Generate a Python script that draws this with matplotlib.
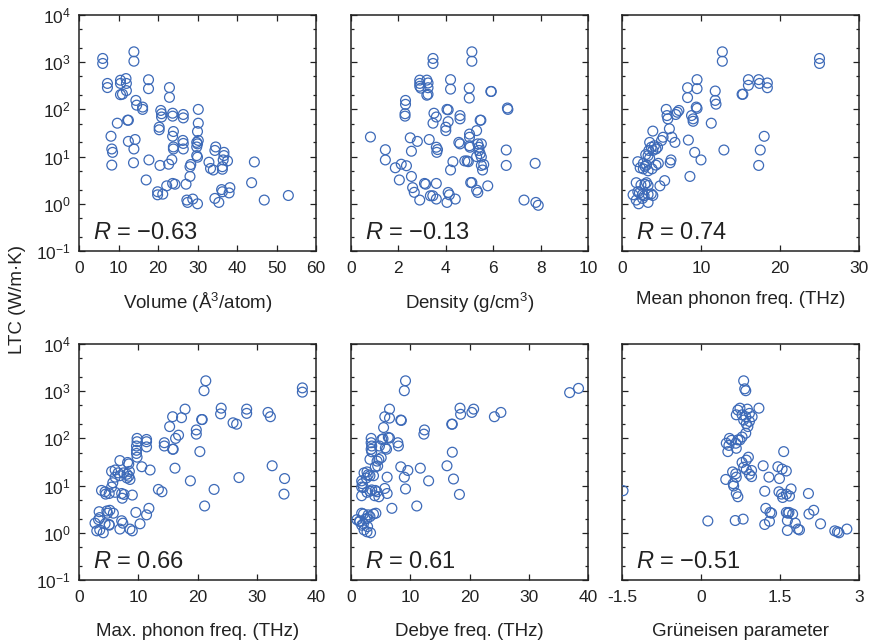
import matplotlib
matplotlib.use("Agg")
import matplotlib.pyplot as plt
from matplotlib.ticker import LogLocator, NullFormatter, FixedLocator

plt.rcParams['font.family'] = ['Liberation Sans', 'DejaVu Sans']
plt.rcParams['mathtext.fontset'] = 'custom'
plt.rcParams['mathtext.rm'] = 'Liberation Sans'
plt.rcParams['mathtext.it'] = 'Liberation Sans:italic'

# ---------------- data ----------------
vol_x = [6.0, 6.0, 13.9, 13.9, 7.2, 7.2, 10.5, 10.5, 11.9, 12.0, 12.0, 10.5, 11.0,
         17.6, 17.6, 22.9, 22.9, 14.4, 14.6, 16.1, 16.1, 9.7, 12.5, 12.3, 8.1, 8.3, 8.5,
         8.3, 12.5, 14.2, 13.9, 13.8, 17.0, 17.7, 20.7, 20.9, 20.9, 20.3, 20.3, 20.5,
         19.9, 19.9, 21.2, 23.7, 23.7, 23.9, 23.7, 23.9, 23.9, 23.5, 22.7, 22.2, 23.7,
         24.3, 26.4, 26.4, 26.3, 26.4, 26.4, 27.1, 28.3, 28.1, 28.1, 27.3, 27.5, 28.8,
         30.2, 30.2, 30.0, 29.8, 30.0, 29.8, 30.2, 29.8, 30.0, 30.0, 32.9, 33.3, 34.0,
         34.6, 34.4, 34.4, 35.4, 36.7, 36.7, 36.5, 36.3, 36.3, 36.1, 36.3, 37.6, 38.2,
         38.0, 43.7, 44.4, 46.9, 53.0]
vol_y = [1200, 940, 1660, 1050, 355, 290, 415, 355, 450, 355, 250, 205, 210,
         425, 275, 290, 180, 155, 123, 112, 100, 51, 59, 59, 27, 14.5, 12.3,
         6.6, 21, 23, 14.5, 7.4, 3.2, 8.5, 95, 81, 69, 42, 37, 6.5,
         1.8, 1.55, 1.6, 83, 72, 34, 27, 16, 14.5, 8.6, 6.9, 2.4, 2.7,
         2.6, 78, 66, 22, 19, 14.5, 2.6, 6.8, 6.1, 3.8, 1.2, 1.07, 1.26,
         100, 51, 34, 20, 18.6, 16, 22, 10.5, 9.7, 1.0, 7.6, 5.6, 5.2,
         16, 13.5, 1.3, 1.07, 12.3, 10.5, 8.5, 5.4, 6.1, 2.0, 1.8, 8.1, 2.2,
         1.7, 2.8, 7.7, 1.2, 1.5]

den_x = [0.82, 1.45, 1.45, 1.87, 2.04, 2.12, 2.34, 2.3, 2.3, 2.28, 2.28, 2.5, 2.55,
         2.55, 2.6, 2.67, 2.9, 2.8, 2.9, 2.9, 2.9, 2.95, 3.2, 3.25, 3.25, 3.25, 3.2,
         3.46, 3.46, 3.3, 3.1, 3.15, 3.35, 3.45, 3.6, 3.6, 3.5, 3.6, 3.46, 3.6, 3.65,
         3.62, 4.05, 4.1, 4.1, 4.0, 4.0, 4.2, 4.2, 4.3, 4.2, 4.1, 4.15, 4.05, 4.4,
         4.6, 4.6, 4.55, 4.6, 4.8, 4.9, 4.95, 4.99, 4.99, 5.1, 5.1, 5.0, 5.0, 5.0,
         5.02, 5.05, 5.1, 5.3, 5.35, 5.4, 5.4, 5.45, 5.5, 5.5, 5.45, 5.48, 5.3, 5.3,
         5.35, 5.5, 5.55, 5.6, 5.77, 5.9, 5.92, 6.6, 6.62, 6.55, 6.55, 7.3, 7.77,
         7.8, 7.9]
den_y = [26, 14, 8.5, 5.8, 3.2, 6.9, 6.4, 155, 128, 81, 72, 25, 13,
         3.8, 2.2, 1.75, 1.2, 21, 417, 355, 309, 282, 417, 363, 288, 209, 200,
         1200, 940, 23, 2.7, 2.6, 1.48, 1.48, 1.26, 2.7, 83, 69, 51, 15.8, 14.1,
         12.3, 100, 98, 55, 42, 35.5, 427, 269, 7.8, 5.2, 1.74, 1.55, 1.07, 1.26,
         74, 63, 20, 18.6, 8.1, 8.1, 7.8, 282, 174, 1660, 1047, 30, 25.7, 17,
         15.8, 2.82, 2.82, 35.5, 18.6, 15.8, 13.5, 11.5, 9.8, 18.6, 59, 59, 10, 1.95,
         1.74, 6.5, 5.2, 6.8, 2.4, 240, 240, 107, 100, 13.8, 6.5, 1.2, 7.2,
         1.07, 0.93]

mean_x = [12.7, 12.7, 25.0, 25.0, 9.5, 9.5, 8.3, 8.3, 11.8, 11.8, 11.9, 15.2, 15.3,
          16.0, 16.0, 17.3, 17.4, 18.4, 18.4, 5.6, 5.7, 5.8, 7.0, 7.2, 6.8, 9.4, 9.5,
          8.8, 9.0, 9.0, 11.3, 3.9, 6.0, 6.3, 5.2, 5.0, 3.5, 3.7, 4.1, 4.5, 3.4, 3.9,
          4.3, 3.0, 3.3, 3.5, 6.7, 8.4, 9.2, 10.0, 12.9, 18.0, 17.5, 17.3, 2.0, 2.7,
          3.1, 2.7, 3.3, 3.8, 4.3, 4.6, 2.3, 2.9, 6.2, 6.1, 8.6, 5.4, 1.8, 2.4, 2.9,
          3.1, 3.3, 4.8, 1.4, 2.0, 2.2, 2.6, 2.8, 3.3, 3.7, 3.9, 1.8, 2.1, 2.6, 3.3]
mean_y = [1660, 1047, 1200, 940, 427, 275, 288, 178, 245, 155, 129, 209, 209,
          427, 324, 427, 355, 363, 288, 100, 74, 63, 87, 95, 78, 112, 105,
          74, 63, 56, 51, 34.7, 38.9, 25.7, 25.7, 21.9, 20, 15.8, 17, 15.8, 13.5, 13.5,
          14.5, 11, 10.5, 9.3, 20, 22.4, 12.3, 8.5, 13.8, 26.9, 13.8, 6.5, 7.8, 7.2,
          6.6, 5.5, 5.0, 5.5, 6.6, 7.2, 5.8, 6.2, 8.5, 7.4, 3.8, 3.1, 2.8, 2.5, 2.6,
          2.8, 2.45, 2.4, 1.55, 1.8, 1.7, 1.58, 1.48, 1.58, 1.62, 1.5, 1.2, 1.0, 1.3, 1.07]

max_x = [21.4, 21.1, 37.7, 37.7, 17.9, 15.8, 17.3, 15.3, 19.8, 19.8, 20.7, 20.8,
         24.0, 23.9, 26.0, 26.6, 28.3, 28.3, 31.9, 32.3, 16.8, 16.3, 9.8, 9.8, 9.7,
         9.7, 9.7, 9.8, 11.4, 11.4, 11.4, 14.4, 14.4, 15.9, 15.8, 20.4, 6.9, 8.2, 8.4,
         10.6, 12.0, 16.2, 5.5, 6.1, 6.6, 7.5, 8.1, 8.5, 6.1, 6.9, 8.1, 8.6, 8.4, 32.6,
         34.7, 34.6, 27.0, 18.8, 22.8, 13.4, 14.0, 3.8, 4.4, 4.5, 5.1, 5.5, 5.7, 6.1,
         7.2, 7.3, 7.6, 9.0, 21.2, 3.4, 4.7, 4.8, 5.8, 5.2, 9.6, 11.4, 11.8, 2.7, 3.3,
         3.5, 3.0, 3.5, 4.1, 4.4, 5.1, 5.1, 7.2, 7.4, 6.9, 8.6, 9.0, 10.3]
max_y = [1660, 1023, 1175, 955, 417, 288, 275, 178, 151, 123, 251, 251,
         437, 331, 214, 200, 417, 339, 355, 288, 117, 100, 100, 85, 69, 56,
         48, 40, 95, 85, 66, 81, 69, 59, 59, 52.5, 33.9, 30.9, 28.8, 25.1, 21.4, 23.4,
         20, 21.4, 18.6, 18.6, 17.4, 20, 15.1, 16.2, 14.5, 13.5, 15.8, 26.3, 14.1,
         6.6, 14.8, 12.6, 8.3, 8.3, 7.4, 7.9, 7.4, 6.6, 6.8, 9.3, 11.5, 7.2, 6.8, 5.4,
         6.5, 6.3, 3.7, 2.8, 2.9, 2.6, 2.6, 3.0, 2.7, 2.4, 3.3, 1.6, 1.9, 2.1,
         1.1, 1.15, 1.0, 1.55, 1.45, 1.5, 1.8, 1.6, 1.2, 1.2, 1.1, 1.55]

deb_x = [9.2, 9.0, 36.9, 38.4, 6.5, 5.7, 6.5, 8.4, 8.5, 5.5, 12.4, 12.3, 18.4, 18.5,
         20.7, 20.4, 24.2, 25.3, 17.1, 17.0, 3.4, 3.4, 3.5, 3.4, 3.5, 5.4, 5.2, 4.8,
         6.0, 6.3, 6.5, 5.8, 7.9, 8.0, 3.2, 4.4, 4.5, 4.1, 5.1, 4.7, 17.1, 8.4, 9.6, 11.7,
         16.2, 9.0, 2.2, 2.7, 2.9, 3.2, 3.8, 2.6, 1.8, 6.1, 13.1, 17.3, 9.2, 18.3, 1.9,
         1.8, 2.1, 3.2, 3.5, 4.1, 4.4, 4.0, 4.7, 5.7, 6.1, 1.8, 2.7, 6.9, 11.1, 1.8,
         2.1, 2.9, 3.2, 3.8, 4.2, 2.7, 1.0, 1.4, 2.1, 2.8, 1.8, 2.2, 2.7, 3.3, 1.5,
         2.4]
deb_y = [1660, 1023, 933, 1148, 417, 288, 269, 245, 240, 170, 151, 123, 437, 324,
         417, 355, 288, 355, 200, 200, 100, 81, 69, 59, 52, 98, 95, 69, 59, 105, 102,
         63, 81, 69, 36, 33, 26, 25, 39, 36, 51, 25, 20.9, 23.4, 26.3, 15.1, 18.6,
         19.5, 17, 16.2, 16.2, 14.5, 12.6, 15.1, 12.6, 13.8, 8.5, 6.5, 11, 9.3, 9.1,
         7.6, 8.1, 7.9, 7.4, 6.1, 5.8, 8.7, 6.8, 6.1, 7.2, 3.3, 3.7, 2.6, 2.5, 2.4,
         2.2, 2.5, 2.6, 2.0, 1.9, 1.75, 1.55, 1.35, 1.45, 1.15, 1.05, 1.0, 1.75, 1.95]

gru_x = [-1.48, 0.13, 0.65, 0.80, 0.81, 0.83, 0.85, 0.70, 0.74, 0.88, 0.67, 0.78,
         0.85, 0.92, 0.97, 1.10, 0.81, 0.86, 0.89, 0.92, 0.85, 0.78, 0.74, 0.54,
         0.48, 0.53, 0.58, 0.66, 0.51, 0.67, 0.70, 0.90, 0.86, 0.78, 0.81, 0.96,
         0.92, 0.96, 0.86, 0.47, 0.60, 0.66, 0.67, 0.61, 0.62, 0.67, 0.70, 1.57,
         1.18, 1.46, 1.54, 1.62, 1.49, 1.29, 1.21, 1.23, 1.31, 1.34, 1.21, 1.30,
         1.48, 1.53, 1.62, 1.55, 1.68, 1.71, 1.65, 1.62, 1.67, 1.74, 1.79, 1.64,
         1.64, 1.84, 1.87, 2.04, 2.05, 2.14, 2.27, 2.54, 2.59, 2.62, 2.77]
gru_y = [7.8, 1.78, 1.82, 1.95, 1660, 1122, 1023, 398, 437, 417, 316, 316,
         288, 339, 288, 437, 245, 204, 178, 229, 129, 107, 93, 100, 79, 71, 91, 79,
         52.5, 61.7, 93, 40, 34.7, 30.9, 24.5, 20.9, 17.4, 15.5, 21.9, 13.5, 19.5,
         17.8, 15.1, 11, 9.8, 6.8, 5.8, 52.5, 26.3, 25.1, 22.4, 20.4, 14.1, 15.1,
         7.6, 3.3, 2.7, 2.6, 1.5, 1.75, 7.4, 6.6, 6.6, 5.6, 6.0, 8.5, 2.6, 2.7,
         2.7, 2.5, 1.6, 1.82, 1.12, 1.2, 1.15, 6.8, 2.5, 3.0, 1.55, 1.1, 1.05, 1.0, 1.2]

xlabels = ['Volume (Å$^3$/atom)', 'Density (g/cm$^3$)', 'Mean phonon freq. (THz)',
           'Max. phonon freq. (THz)', 'Debye freq. (THz)', 'Grüneisen parameter']
r_values = ['\u22120.63', '\u22120.13', '0.74', '0.66', '0.61', '\u22120.51']
x_ticks = [[0, 10, 20, 30, 40, 50, 60], [0, 2, 4, 6, 8, 10], [0, 10, 20, 30],
           [0, 10, 20, 30, 40], [0, 10, 20, 30, 40], [-1.5, 0, 1.5, 3]]
x_ticklabels = [['0', '10', '20', '30', '40', '50', '60'],
                ['0', '2', '4', '6', '8', '10'],
                ['0', '10', '20', '30'],
                ['0', '10', '20', '30', '40'],
                ['0', '10', '20', '30', '40'],
                ['-1.5', '0', '1.5', '3']]
y_ticks = [0.1, 1, 10, 100, 1000, 10000]
y_ticklabels = ['$10^{-1}$', '$10^{0}$', '$10^{1}$', '$10^{2}$', '$10^{3}$', '$10^{4}$']

xs = [vol_x, den_x, mean_x, max_x, deb_x, gru_x]
ys = [vol_y, den_y, mean_y, max_y, deb_y, gru_y]

# ---------------- figure ----------------
W, H = 876, 643
fig = plt.figure(figsize=(W / 100, H / 100), dpi=100)

lefts = [79, 351, 622]
tops = [15, 344]
pw, ph = 237, 236
color = '#3d6ab8'

for i in range(6):
    r, c = divmod(i, 3)
    ax = fig.add_axes([lefts[c] / W, 1 - (tops[r] + ph) / H, pw / W, ph / H])
    ax.scatter(xs[i], ys[i], s=50, facecolors='none', edgecolors=color,
               linewidths=0.9, zorder=3)
    ax.set_yscale('log')
    ax.set_ylim(0.1, 10000)
    ax.set_xlim(x_ticks[i][0], x_ticks[i][-1])
    ax.set_xticks(x_ticks[i])
    ax.set_xticklabels(x_ticklabels[i])
    ax.yaxis.set_major_locator(FixedLocator(y_ticks))
    ax.yaxis.set_minor_locator(LogLocator(base=10, subs=(2.0, 5.0), numticks=20))
    ax.yaxis.set_minor_formatter(NullFormatter())
    if c == 0:
        ax.set_yticklabels(y_ticklabels)
    else:
        ax.set_yticklabels([])
    ax.tick_params(which='both', direction='in', top=True, right=True,
                   labelsize=12.5, colors='#222222', width=0.9)
    ax.tick_params(axis='x', which='major', length=4.5, pad=7)
    ax.tick_params(axis='y', which='major', length=4.5, pad=6)
    ax.tick_params(which='minor', length=2.5)
    for sp in ax.spines.values():
        sp.set_linewidth(1.1)
        sp.set_color('#222222')
    ax.set_xlabel(xlabels[i], fontsize=13.5, labelpad=11 if r == 0 else 13,
                  color='#222222')
    ax.text(0.06, 0.05, r'$R$ = ' + r_values[i], transform=ax.transAxes,
            fontsize=17, ha='left', va='baseline', color='#222222')

fig.text(18 / W, 1 - 300 / H, 'LTC (W/m·K)', rotation=90, ha='center', va='center',
         fontsize=13.5, color='#222222')

fig.savefig('out.png', dpi=100)
